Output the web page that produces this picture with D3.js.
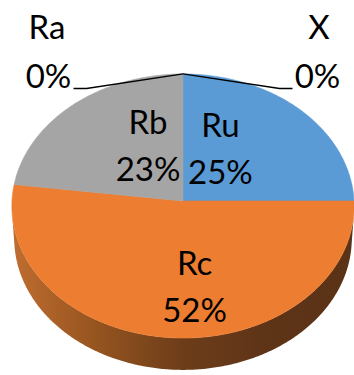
<!DOCTYPE html>
<html>
<head>
<meta charset="utf-8">
<script src="https://cdn.jsdelivr.net/npm/d3@7/dist/d3.min.js"></script>
<style>
  html, body { margin: 0; padding: 0; background: #fff; }
  svg { display: block; }
  text { font-family: Lato, "Open Sans", sans-serif; fill: #000; }
</style>
</head>
<body>
<svg id="chart" width="354" height="375"></svg>
<script>
// Slice order runs clockwise from 12 o'clock
const categories = ["X", "Ru", "Rc", "Rb", "Ra"];
const values = [0, 25, 52, 23, 0];
const percentLabels = ["0%", "25%", "52%", "23%", "0%"];
const topColors = { X: "#5b9bd5", Ru: "#5b9bd5", Rc: "#ed7d31", Rb: "#a5a5a5", Ra: "#a5a5a5" };

const svg = d3.select("#chart");

// 3-D view of the disc: tilt, camera distance (in radii) and thickness (in radii)
const cx = 183, cy = 201;
const tilt = Math.asin(0.771);
const camDist = 16.8;
const thick = 0.303;
const radius = d3.scaleLinear().domain([0, 1]).range([0, 171]);

function project(theta, r, z) {
  const x = r * Math.sin(theta), y = r * Math.cos(theta);
  const v = y * Math.sin(tilt) + z * Math.cos(tilt);
  const d = camDist + y * Math.cos(tilt) - z * Math.sin(tilt);
  const k = camDist / d;
  return [cx + radius(x * k), cy - radius(v * k)];
}

const pie = d3.pie().sort(null).value(d => d.value).startAngle(0).endAngle(2 * Math.PI);
const arcs = pie(categories.map((c, i) => ({ name: c, value: values[i], label: percentLabels[i] })));

const line = d3.line();
function samples(a0, a1) {
  const n = Math.max(2, Math.ceil(Math.abs(a1 - a0) / 0.01));
  return d3.range(n + 1).map(i => a0 + (a1 - a0) * i / n);
}

// Outer wall is visible where its normal faces the camera
const wallLimit = Math.acos(-1 / (camDist * Math.cos(tilt)));
const wallFrom = wallLimit, wallTo = 2 * Math.PI - wallLimit;

const defs = svg.append("defs");
const grad = defs.append("linearGradient")
  .attr("id", "wallShade").attr("gradientUnits", "userSpaceOnUse")
  .attr("x1", 10).attr("y1", 0).attr("x2", 354).attr("y2", 0);
[[0, "#c06e31"], [0.25, "#96541f"], [0.5, "#6d3d1a"], [0.75, "#5e3417"], [1, "#5a3216"]]
  .forEach(([o, c]) => grad.append("stop").attr("offset", o).attr("stop-color", c));

const wallColors = { Ru: "#3d6d99", Rb: "#777777", Rc: "url(#wallShade)" };

// Side walls
arcs.filter(a => a.value > 0).forEach(a => {
  const a0 = Math.max(a.startAngle, wallFrom), a1 = Math.min(a.endAngle, wallTo);
  if (a1 <= a0) return;
  const ts = samples(a0, a1);
  const pts = ts.map(t => project(t, 1, 0)).concat(ts.slice().reverse().map(t => project(t, 1, -thick)));
  svg.append("path").attr("d", line(pts) + "Z").attr("fill", wallColors[a.data.name]);
});

// Top faces
arcs.filter(a => a.value > 0).forEach(a => {
  const pts = [project(0, 0, 0)].concat(samples(a.startAngle, a.endAngle).map(t => project(t, 1, 0)));
  svg.append("path").attr("d", line(pts) + "Z")
    .attr("fill", topColors[a.data.name])
    .attr("stroke", topColors[a.data.name]).attr("stroke-width", 0.6);
});

// Labels inside the slices
const fontSize = 33, lineGap = 47;
const labelSpot = { Ru: [0.56, 0.56, 0], Rb: [0.56, 0.56, 0], Rc: [0.64, 0.1, 0.07] };
arcs.filter(a => a.value > 0).forEach(a => {
  const mid = (a.startAngle + a.endAngle) / 2;
  const [r, kx, shift] = labelSpot[a.data.name];
  const x = r * Math.sin(mid) * kx + shift, y = r * Math.cos(mid);
  const [px, py] = project(Math.atan2(x, y), Math.hypot(x, y), 0);
  const g = svg.append("g").attr("transform", `translate(${px},${py})`);
  g.append("text").attr("text-anchor", "middle").attr("y", -lineGap / 2 + 11)
    .attr("font-size", fontSize).text(a.data.name);
  g.append("text").attr("text-anchor", "middle").attr("y", lineGap / 2 + 11)
    .attr("font-size", fontSize).text(a.data.label);
});

// Zero-value slices: callout labels with leader lines to the rim
arcs.filter(a => a.value === 0).forEach(a => {
  const side = a.startAngle < Math.PI ? 1 : -1;   // X to the right, Ra to the left
  const rim = project(a.startAngle, 1, 0);
  const labelX = cx + side * 134.5;
  const valueY = 88;
  const lineEnd = labelX - side * 25;
  const elbow = lineEnd - side * 13;
  svg.append("path")
    .attr("d", line([rim, [elbow, valueY + 0.5], [lineEnd, valueY + 0.5]]))
    .attr("fill", "none").attr("stroke", "#000").attr("stroke-width", 1.3);
  svg.append("text").attr("text-anchor", "middle").attr("x", labelX + side * 1.5)
    .attr("y", 39).attr("font-size", fontSize).text(a.data.name);
  svg.append("text").attr("text-anchor", "middle").attr("x", labelX)
    .attr("y", valueY).attr("font-size", fontSize).text(a.data.label);
});
</script>
</body>
</html>
